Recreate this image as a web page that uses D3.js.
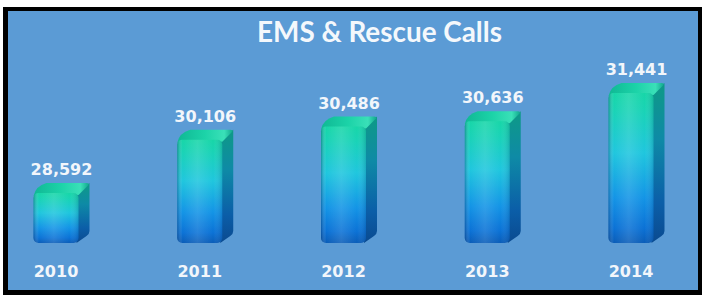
<!DOCTYPE html>
<html>
<head>
<meta charset="utf-8">
<script src="https://cdn.jsdelivr.net/npm/d3@7"></script>
<style>
  html, body { margin: 0; padding: 0; background: #ffffff; }
  svg { display: block; }
</style>
</head>
<body>
<script>
// ---- data ----
const title = "EMS & Rescue Calls";
const categories = ["2010", "2011", "2012", "2013", "2014"];
const values = [28592, 30106, 30486, 30636, 31441];

const W = 702, H = 295;
const svg = d3.select("body").append("svg").attr("width", W).attr("height", H);

// frame
svg.append("rect").attr("x", 0).attr("y", 0).attr("width", W).attr("height", H).attr("fill", "#ffffff");
svg.append("rect").attr("x", 3).attr("y", 7).attr("width", 699).attr("height", 288).attr("fill", "#000000");
svg.append("rect").attr("x", 8).attr("y", 11).attr("width", 690).attr("height", 279).attr("fill", "#5B9BD5");

// gradients
const defs = svg.append("defs");
const gFront = defs.append("linearGradient").attr("id", "gFront").attr("x1", 0).attr("y1", 0).attr("x2", 0).attr("y2", 1);
[[0, "#17D6A8"], [0.12, "#19D3B6"], [0.4, "#1FC6DE"], [0.7, "#1394E6"], [0.9, "#0B72D6"], [1, "#0A5DB8"]]
  .forEach(([o, c]) => gFront.append("stop").attr("offset", o).attr("stop-color", c));
const gShade = defs.append("linearGradient").attr("id", "gShade").attr("x1", 0).attr("y1", 0).attr("x2", 1).attr("y2", 0);
[[0, "#002050", 0.35], [0.12, "#ffffff", 0.0], [0.45, "#ffffff", 0.12], [0.8, "#ffffff", 0.0], [1, "#002050", 0.18]]
  .forEach(([o, c, a]) => gShade.append("stop").attr("offset", o).attr("stop-color", c).attr("stop-opacity", a));
const gSide = defs.append("linearGradient").attr("id", "gSide").attr("x1", 0).attr("y1", 0).attr("x2", 0).attr("y2", 1);
[[0, "#0E9A86"], [0.35, "#0E8AA6"], [0.75, "#0B5EA8"], [1, "#0A4A90"]]
  .forEach(([o, c]) => gSide.append("stop").attr("offset", o).attr("stop-color", c));
const gTop = defs.append("linearGradient").attr("id", "gTop").attr("x1", 0).attr("y1", 0).attr("x2", 1).attr("y2", 0);
[[0, "#0FB894"], [0.5, "#1CD3A8"], [0.85, "#3AE0B8"], [1, "#12A88E"]]
  .forEach(([o, c]) => gTop.append("stop").attr("offset", o).attr("stop-color", c));

// scales
const x = d3.scaleBand().domain(categories).range([33.5, 653.5]).paddingInner(0.687).paddingOuter(0);
const y = d3.scaleLinear().domain([27168, 31441]).range([243, 93]);
const dx = 11, dy = 10;
const bw = x.bandwidth();

const data = categories.map((c, i) => ({ c, v: values[i] }));
const bars = svg.append("g").selectAll("g").data(data).join("g");

// side face
bars.append("path")
  .attr("d", d => {
    const x1 = x(d.c) + bw, t = y(d.v), b = y.range()[0];
    return `M${x1 - 2},${t} L${x1 + dx},${t - dy} L${x1 + dx},${b - dy - 2} Q${x1 + dx},${b - dy + 1} ${x1 + dx - 3},${b - dy + 3} L${x1 - 2},${b} Z`;
  })
  .attr("fill", "url(#gSide)");

// top face
bars.append("path")
  .attr("d", d => {
    const x0 = x(d.c), x1 = x0 + bw, t = y(d.v);
    return `M${x0},${t + 3} Q${x0 + 2},${t - dy + 3} ${x0 + dx + 2},${t - dy} L${x1 + dx - 3},${t - dy} Q${x1 + dx},${t - dy} ${x1 + dx - 1},${t - dy + 2} L${x1},${t + 2} Z`;
  })
  .attr("fill", "url(#gTop)");

// front face
bars.append("rect")
  .attr("x", d => x(d.c)).attr("y", d => y(d.v))
  .attr("width", bw).attr("height", d => y.range()[0] - y(d.v))
  .attr("rx", 5).attr("ry", 5)
  .attr("fill", "url(#gFront)");
bars.append("rect")
  .attr("x", d => x(d.c)).attr("y", d => y(d.v))
  .attr("width", bw).attr("height", d => y.range()[0] - y(d.v))
  .attr("rx", 5).attr("ry", 5)
  .attr("fill", "url(#gShade)");

// value labels
const fmt = d3.format(",");
bars.append("text")
  .attr("x", d => x(d.c) + bw / 2 + dx / 2)
  .attr("y", d => y(d.v) - dy - 8)
  .attr("text-anchor", "middle")
  .attr("font-family", "DejaVu Sans, Verdana, sans-serif")
  .attr("font-weight", "bold")
  .attr("font-size", 16)
  .attr("fill", "#F2F6FB")
  .text(d => fmt(d.v));

// category axis (labels only)
const xAxis = svg.append("g")
  .attr("transform", `translate(0,${277 - 12})`)
  .call(d3.axisBottom(x).tickSize(0).tickPadding(0));
xAxis.select(".domain").remove();
xAxis.selectAll("text")
  .attr("dy", 0).attr("y", 12)
  .attr("font-family", "DejaVu Sans, Verdana, sans-serif")
  .attr("font-weight", "bold")
  .attr("font-size", 16)
  .attr("fill", "#F2F6FB");

// title
const t = svg.append("text")
  .attr("x", 379.5).attr("y", 42)
  .attr("text-anchor", "middle")
  .attr("font-family", "Lato, 'Open Sans', sans-serif")
  .attr("font-weight", "bold")
  .attr("font-size", 24)
  .attr("fill", "#F4F8FC")
  .text(title);
const tw = t.node().getComputedTextLength();
t.attr("font-size", 24 * 245 / tw);
</script>
</body>
</html>
